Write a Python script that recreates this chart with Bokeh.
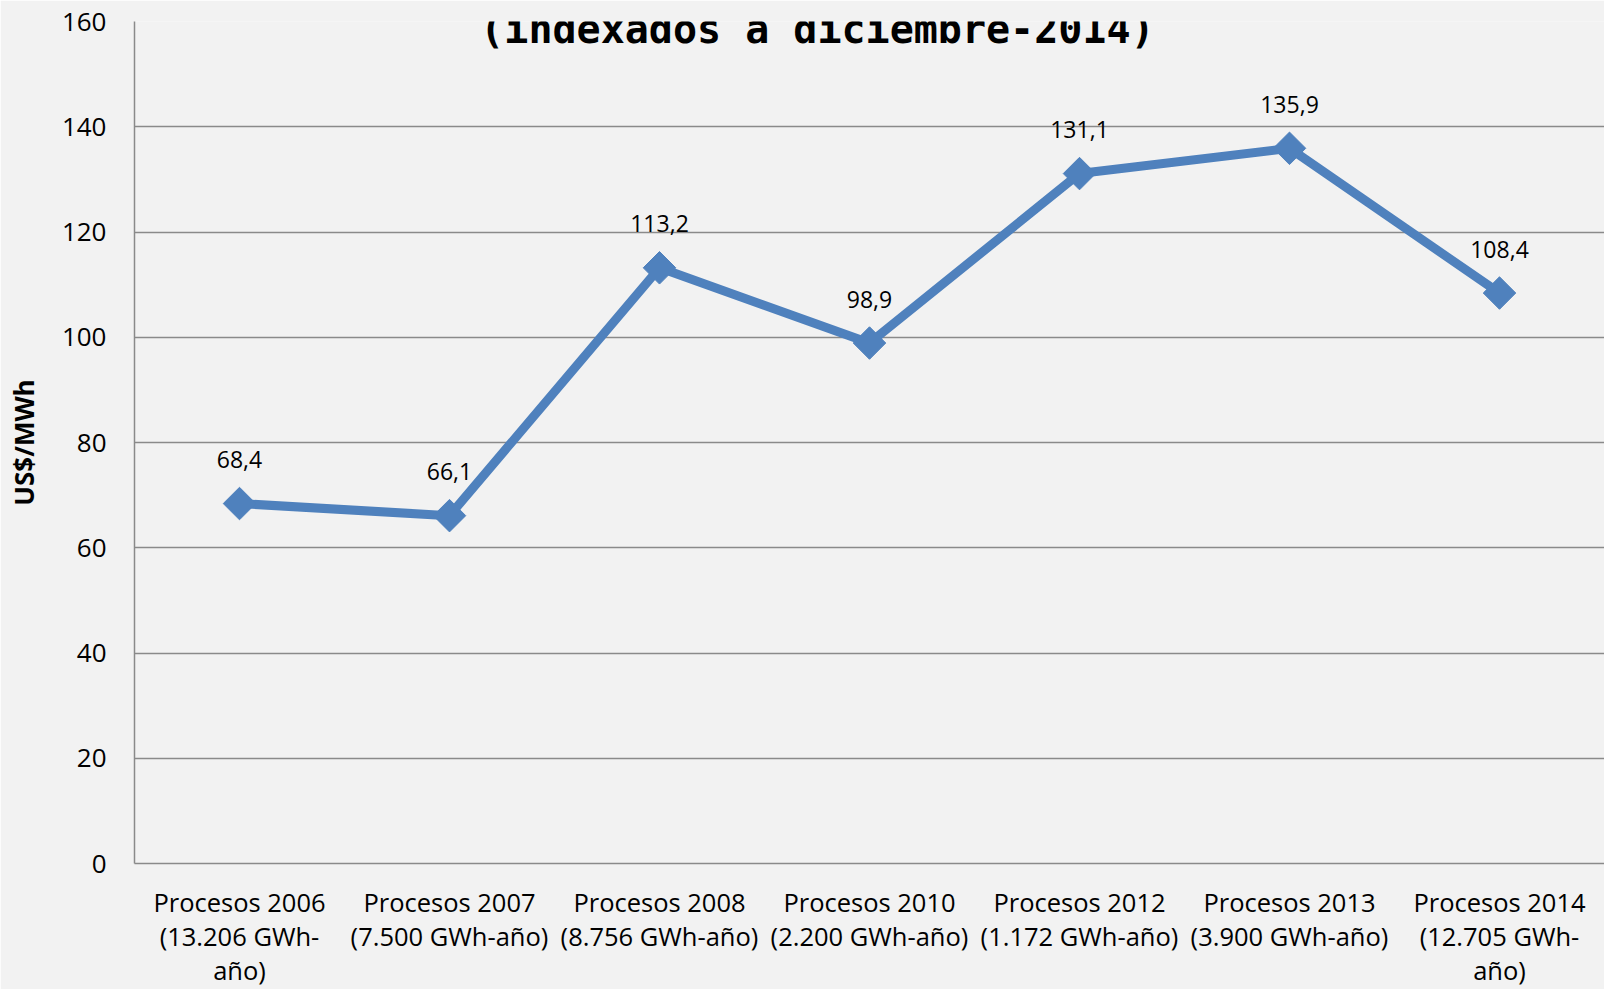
import numpy as np
from bokeh.plotting import figure
from bokeh.models import Range1d, FactorRange, ColumnDataSource, Label, FixedTicker
from bokeh.core.properties import value
from bokeh.embed import file_html
from bokeh.resources import INLINE

# ---- data ----
categories = [
    "Procesos 2006\n(13.206 GWh-\naño)",
    "Procesos 2007\n(7.500 GWh-año)",
    "Procesos 2008\n(8.756 GWh-año)",
    "Procesos 2010\n(2.200 GWh-año)",
    "Procesos 2012\n(1.172 GWh-año)",
    "Procesos 2013\n(3.900 GWh-año)",
    "Procesos 2014\n(12.705 GWh-\naño)",
]
prices = [68.4, 66.1, 113.2, 98.9, 131.1, 135.9, 108.4]
y_ticks = [0, 20, 40, 60, 80, 100, 120, 140, 160]
title_text = "(indexados a diciembre-2014)"
y_axis_title = "US$/MWh"

labels = [f"{v:.1f}".replace(".", ",") for v in prices]
src = ColumnDataSource(dict(cat=categories, val=prices, lbl=labels))

BG = "#f2f2f2"
GRID = "#8a8a8a"
BLUE = "#4f81bd"
FONT = "Open Sans"

p = figure(
    width=1604, height=989,
    x_range=FactorRange(factors=categories, range_padding=0),
    y_range=Range1d(0, 160),
    output_backend="svg", toolbar_location=None,
    min_border_left=134, min_border_right=0,
    min_border_top=21, min_border_bottom=126,
)
p.background_fill_color = BG
p.border_fill_color = BG
p.outline_line_color = None

p.xgrid.grid_line_color = None
p.ygrid.grid_line_color = GRID
p.ygrid.grid_line_width = 1.5
p.yaxis.ticker = FixedTicker(ticks=y_ticks)

for ax in (p.xaxis[0], p.yaxis[0]):
    ax.axis_line_color = GRID
    ax.axis_line_width = 1.5
    ax.major_tick_line_color = None
    ax.minor_tick_line_color = None
    ax.major_label_text_font = FONT
    ax.major_label_text_color = "black"

p.xaxis.major_label_text_font_size = "25.5px"
p.yaxis.major_label_text_font_size = "26px"

p.yaxis.major_label_standoff = 22
p.yaxis.axis_label = y_axis_title
p.yaxis.axis_label_text_font = FONT
p.yaxis.axis_label_text_font_style = "bold"
p.yaxis.axis_label_text_font_size = "26px"
p.yaxis.axis_label_text_color = "black"
p.yaxis.axis_label_standoff = 17

p.xaxis.major_label_standoff = 15
p.xaxis.major_label_text_line_height = 1.0
p.xaxis.major_label_orientation = "horizontal"

p.line(x="cat", y="val", source=src, line_color=BLUE, line_width=9)
p.scatter(x="cat", y="val", source=src, marker="square", angle=np.pi / 4,
          size=23, fill_color=BLUE, line_color=BLUE)
p.text(x="cat", y="val", text="lbl", source=src, text_align="center",
       text_baseline="middle", y_offset=-44, text_font=value(FONT),
       text_font_size="23px", text_color="black")

title = Label(x=3.252, y=158.5, x_units="data", y_units="data", text=title_text,
              text_font="DejaVu Sans Mono", text_font_style="bold",
              text_font_size="40px", text_align="center",
              text_baseline="alphabetic", text_color="black")
p.add_layout(title)

open("out.html", "w").write(file_html(p, INLINE))
